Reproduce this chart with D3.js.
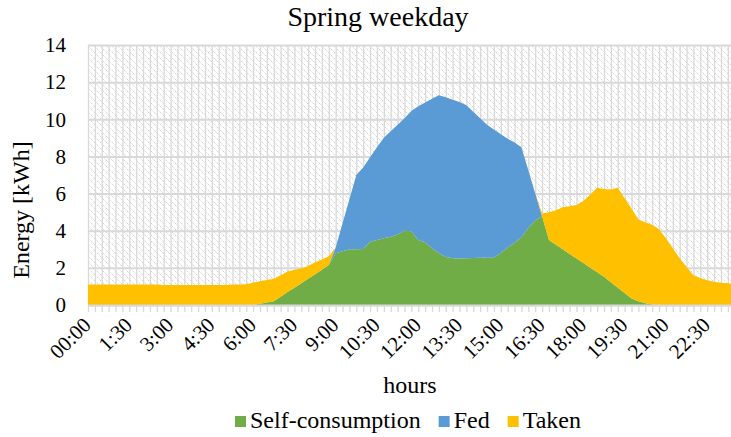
<!DOCTYPE html>
<html>
<head>
<meta charset="utf-8">
<script src="https://cdn.jsdelivr.net/npm/d3@7"></script>
<style>
  body { margin: 0; background: #fff; }
  svg { display: block; font-family: "Liberation Serif", "Times New Roman", serif; }
  svg text { font-family: "Liberation Serif", "Times New Roman", serif; }
</style>
</head>
<body>
<div id="chart"></div>
<script>
// quarter-hour categories
var times = [
  "00:00","0:15","0:30","0:45","1:00","1:15","1:30","1:45","2:00","2:15","2:30","2:45",
  "3:00","3:15","3:30","3:45","4:00","4:15","4:30","4:45","5:00","5:15","5:30","5:45",
  "6:00","6:15","6:30","6:45","7:00","7:15","7:30","7:45","8:00","8:15","8:30","8:45",
  "9:00","9:15","9:30","9:45","10:00","10:15","10:30","10:45","11:00","11:15","11:30","11:45",
  "12:00","12:15","12:30","12:45","13:00","13:15","13:30","13:45","14:00","14:15","14:30","14:45",
  "15:00","15:15","15:30","15:45","16:00","16:15","16:30","16:45","17:00","17:15","17:30","17:45",
  "18:00","18:15","18:30","18:45","19:00","19:15","19:30","19:45","20:00","20:15","20:30","20:45",
  "21:00","21:15","21:30","21:45","22:00","22:15","22:30","22:45","23:00","23:15","23:30","23:45"
];
var tickLabels = ["00:00","1:30","3:00","4:30","6:00","7:30","9:00","10:30","12:00","13:30",
                  "15:00","16:30","18:00","19:30","21:00","22:30"];
var yTicks = [0, 2, 4, 6, 8, 10, 12, 14];

var selfConsumption = [
  0,0,0,0,0,0,0,0,0,0,0,0,
  0,0,0,0,0,0,0,0,0,0,0,0,
  0,0.07,0.13,0.2,0.45,0.7,0.93,1.17,1.42,1.65,1.9,2.15,
  2.78,2.9,3.0,3.0,3.02,3.4,3.5,3.6,3.68,3.8,4.0,3.97,
  3.5,3.38,3.05,2.8,2.58,2.52,2.5,2.52,2.53,2.55,2.55,2.55,
  2.8,3.1,3.35,3.65,4.15,4.55,4.78,3.5,3.25,3.0,2.75,2.5,
  2.26,2.0,1.76,1.52,1.22,0.93,0.64,0.35,0.2,0.1,0.03,0,
  0,0,0,0,0,0,0,0,0,0,0,0
];
var fed = [
  0,0,0,0,0,0,0,0,0,0,0,0,
  0,0,0,0,0,0,0,0,0,0,0,0,
  0,0,0,0,0,0,0,0,0,0,0,0,
  0.32,1.5,2.7,4.0,4.38,4.55,5.0,5.4,5.67,5.9,6.05,6.48,
  7.2,7.52,8.05,8.5,8.6,8.53,8.43,8.23,7.87,7.5,7.15,6.9,
  6.4,5.85,5.4,4.85,3.11,1.47,0,0,0,0,0,0,
  0,0,0,0,0,0,0,0,0,0,0,0,
  0,0,0,0,0,0,0,0,0,0,0,0
];
var taken = [
  1.1,1.1,1.1,1.1,1.1,1.1,1.1,1.1,1.1,1.1,1.1,1.08,
  1.08,1.08,1.08,1.08,1.08,1.08,1.08,1.08,1.08,1.1,1.1,1.12,
  1.2,1.21,1.22,1.22,1.15,1.1,0.97,0.8,0.68,0.65,0.55,0.47,
  0,0,0,0,0,0,0,0,0,0,0,0,
  0,0,0,0,0,0,0,0,0,0,0,0,
  0,0,0,0,0,0,0.15,1.5,1.85,2.27,2.57,2.88,
  3.34,3.95,4.56,4.73,5.0,5.39,5.11,4.85,4.4,4.35,4.29,4.08,
  3.59,3.06,2.52,2.05,1.6,1.45,1.33,1.25,1.2,1.17,1.15,1.13
];

var seriesNames = ["Self-consumption", "Fed", "Taken"];
var seriesColors = ["#70ad47", "#5b9bd5", "#ffc000"];

var width = 731, height = 437;
var plotLeft = 88, plotTop = 45, plotH = 260;
var step = 6.88;
var plotW = step * (times.length - 1);
var plotBottom = plotTop + plotH;
var serif = "\"Liberation Serif\", \"Times New Roman\", serif";

var svg = d3.select("#chart").append("svg")
    .attr("width", width)
    .attr("height", height);

var pat = svg.append("defs").append("pattern")
    .attr("id", "hatch")
    .attr("patternUnits", "userSpaceOnUse")
    .attr("width", 6)
    .attr("height", 6);
pat.append("path")
    .attr("d", "M0.5,0.5L2.5,2.5M3.5,3.5L5.5,5.5")
    .attr("stroke", "#d4d4d4")
    .attr("stroke-width", 1);

var x = d3.scalePoint().domain(times).range([plotLeft, plotLeft + plotW]);
var y = d3.scaleLinear().domain([0, 14]).range([plotBottom, plotTop]);

// plot background
svg.append("rect")
    .attr("x", plotLeft).attr("y", plotTop)
    .attr("width", plotW).attr("height", plotH)
    .attr("fill", "url(#hatch)");

// vertical grid
var vgrid = svg.append("g")
    .attr("transform", "translate(0," + plotBottom + ")")
    .call(d3.axisBottom(x).tickSize(-plotH).tickFormat(""));
vgrid.select(".domain").remove();
vgrid.selectAll("line").attr("stroke", "#d9d9d9").attr("stroke-width", 1.3);

// horizontal grid
var hgrid = svg.append("g")
    .attr("transform", "translate(" + plotLeft + ",0)")
    .call(d3.axisLeft(y).tickValues(yTicks).tickSize(-plotW).tickFormat(""));
hgrid.select(".domain").remove();
hgrid.selectAll("line").attr("stroke", "#d9d9d9").attr("stroke-width", 2);

// stacked areas
var table = times.map(function (t, i) {
  return { time: t, "Self-consumption": selfConsumption[i], "Fed": fed[i], "Taken": taken[i] };
});
var stacked = d3.stack().keys(seriesNames)(table);

var area = d3.area()
    .x(function (d) { return x(d.data.time); })
    .y0(function (d) { return y(d[0]); })
    .y1(function (d) { return y(d[1]); });

svg.append("g").selectAll("path")
    .data(stacked)
    .enter()
    .append("path")
    .attr("d", area)
    .attr("fill", function (d, i) { return seriesColors[i]; });

// x axis line + tick marks
var xAxis = svg.append("g")
    .attr("transform", "translate(0," + plotBottom + ")")
    .call(d3.axisBottom(x).tickSize(7).tickSizeOuter(0).tickFormat(""));
xAxis.select(".domain").attr("stroke", "#d9d9d9").attr("stroke-width", 2);
xAxis.selectAll("line").attr("stroke", "#d9d9d9").attr("stroke-width", 1.3);

// x tick labels
svg.append("g").selectAll("text")
    .data(tickLabels)
    .enter()
    .append("text")
    .attr("transform", function (d) { return "translate(" + (x(d) - 1) + "," + (plotBottom + 16) + ") rotate(-45)"; })
    .attr("text-anchor", "end")
    .attr("dy", "0.35em")
    .style("font-size", "21px")
    .attr("fill", "#000")
    .text(function (d) { return d; });

// y tick labels
var yAxis = svg.append("g")
    .attr("transform", "translate(" + plotLeft + ",0)")
    .call(d3.axisLeft(y).tickValues(yTicks).tickSize(0).tickPadding(22))
    .attr("font-family", serif)
    .attr("font-size", 21);
yAxis.select(".domain").remove();
yAxis.selectAll("text").attr("fill", "#000");

// titles
svg.append("text")
    .attr("x", 378).attr("y", 26)
    .attr("text-anchor", "middle")
    .style("font-size", "28px")
    .text("Spring weekday");

svg.append("text")
    .attr("x", 410).attr("y", 393)
    .attr("text-anchor", "middle")
    .style("font-size", "24px")
    .text("hours");

svg.append("text")
    .attr("transform", "translate(29,210) rotate(-90)")
    .attr("text-anchor", "middle")
    .style("font-size", "24px")
    .text("Energy [kWh]");

// legend
var legend = svg.append("g");
var lx = 235;
seriesNames.forEach(function (name, i) {
  legend.append("rect")
      .attr("x", lx).attr("y", 416)
      .attr("width", 11).attr("height", 11)
      .attr("fill", seriesColors[i]);
  var t = legend.append("text")
      .attr("x", lx + 15).attr("y", 428)
      .style("font-size", "24px")
      .text(name);
  lx += 15 + t.node().getComputedTextLength() + 18;
});
</script>
</body>
</html>
